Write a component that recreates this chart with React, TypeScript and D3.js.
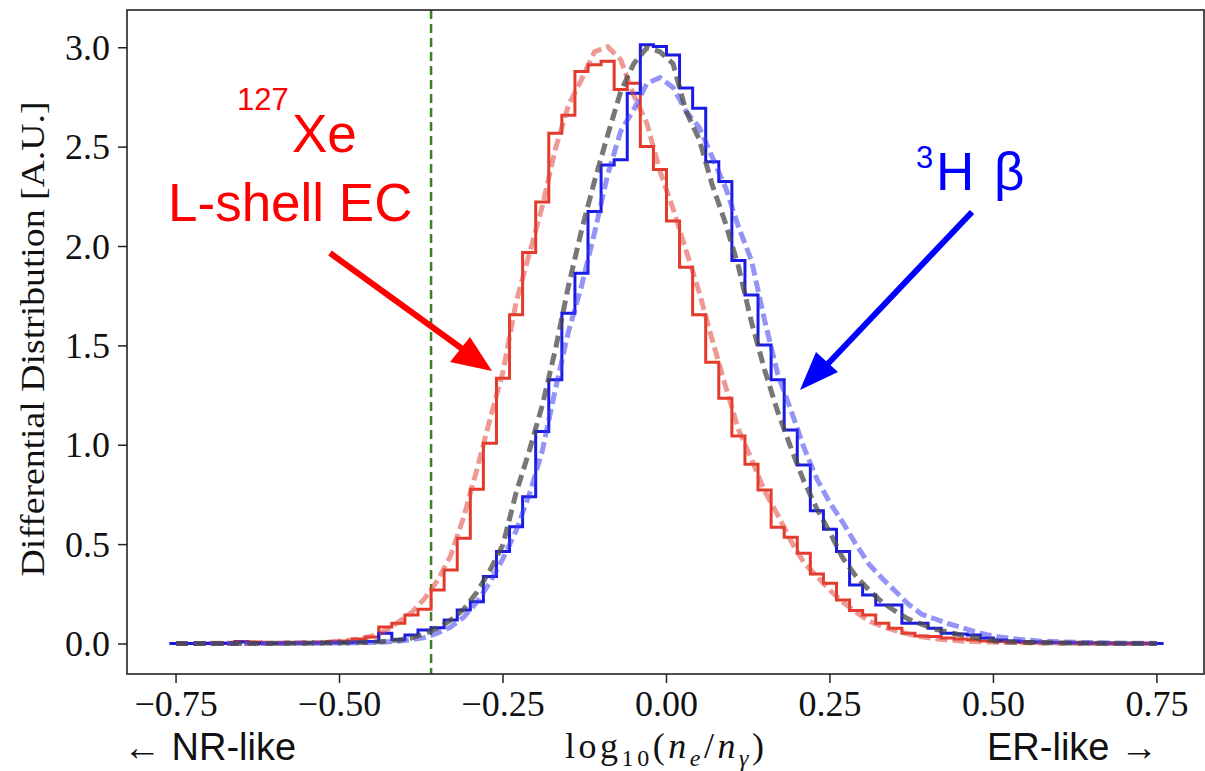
import React from "react";
import * as d3 from "d3";

// Histogram binning (bin edges every 0.02 starting at -0.76)
const BIN_START = -0.76;
const BIN_WIDTH = 0.02;

// Solid step histograms (bin centers -0.75 ... 0.75)
const XE127_HIST = [
  0.003, 0.003, 0.003, 0.004, 0.004, 0.012, 0.010, 0.004, 0.005, 0.005,
  0.006, 0.008, 0.012, 0.015, 0.025, 0.035, 0.085, 0.104, 0.146, 0.175,
  0.272, 0.372, 0.532, 0.778, 1.010, 1.337, 1.656, 1.970, 2.224, 2.570,
  2.660, 2.880, 2.915, 2.932, 2.790, 2.822, 2.503, 2.388,
  2.128, 1.896, 1.656, 1.418, 1.237, 1.047, 0.905, 0.775, 0.587, 0.537,
  0.456, 0.352, 0.305, 0.221, 0.168, 0.146, 0.104, 0.079, 0.054, 0.040,
  0.038, 0.030, 0.025, 0.020, 0.015, 0.012, 0.010, 0.008, 0.006, 0.006,
  0.005, 0.004, 0.004, 0.003, 0.003, 0.003, 0.002, 0.002,
];

const H3_HIST = [
  0.003, 0.003, 0.004, 0.003, 0.004, 0.010, 0.004, 0.004, 0.004, 0.005,
  0.005, 0.005, 0.006, 0.008, 0.010, 0.012, 0.054, 0.022, 0.045, 0.070,
  0.082, 0.121, 0.171, 0.213, 0.339, 0.465, 0.590, 0.741, 1.069, 1.329,
  1.664, 1.866, 2.176, 2.410, 2.436, 2.771, 3.015, 3.006,
  2.964, 2.797, 2.696, 2.427, 2.327, 1.929, 1.756, 1.505, 1.329, 1.077,
  0.901, 0.671, 0.577, 0.465, 0.297, 0.247, 0.196, 0.196, 0.104, 0.104,
  0.079, 0.054, 0.050, 0.045, 0.030, 0.020, 0.015, 0.012, 0.010, 0.008,
  0.007, 0.006, 0.005, 0.005, 0.004, 0.004, 0.003, 0.003,
];

// Dashed model curves, sampled at the same bin centers
const XE127_MODEL = [
  0.003, 0.003, 0.003, 0.004, 0.004, 0.005, 0.005, 0.005, 0.005, 0.006,
  0.007, 0.008, 0.012, 0.018, 0.025, 0.040, 0.066, 0.110, 0.158, 0.228,
  0.320, 0.445, 0.640, 0.876, 1.130, 1.370, 1.720, 1.960, 2.200, 2.490,
  2.710, 2.840, 2.980, 3.005, 2.940, 2.760, 2.620, 2.380,
  2.190, 1.980, 1.770, 1.530, 1.300, 1.080, 0.930, 0.770, 0.650, 0.520,
  0.410, 0.340, 0.270, 0.210, 0.160, 0.115, 0.088, 0.068, 0.050, 0.036,
  0.027, 0.020, 0.015, 0.012, 0.010, 0.008, 0.007, 0.006, 0.005, 0.005,
  0.004, 0.004, 0.003, 0.003, 0.003, 0.002, 0.002, 0.002,
];

const NEST_MODEL = [
  0.002, 0.002, 0.002, 0.003, 0.003, 0.003, 0.003, 0.003, 0.004, 0.004,
  0.004, 0.005, 0.005, 0.006, 0.008, 0.010, 0.014, 0.020, 0.030, 0.052,
  0.080, 0.120, 0.175, 0.260, 0.370, 0.500, 0.760, 0.970, 1.200, 1.480,
  1.800, 2.080, 2.330, 2.560, 2.780, 2.920, 3.000, 2.980,
  2.920, 2.680, 2.540, 2.310, 2.120, 1.900, 1.620, 1.380, 1.170, 0.990,
  0.820, 0.680, 0.560, 0.430, 0.340, 0.270, 0.210, 0.165, 0.125, 0.100,
  0.075, 0.060, 0.045, 0.034, 0.022, 0.012, 0.010, 0.008, 0.007, 0.006,
  0.005, 0.004, 0.004, 0.003, 0.003, 0.003, 0.002, 0.002,
];

const H3_MODEL = [
  0.002, 0.002, 0.002, 0.003, 0.003, 0.003, 0.003, 0.003, 0.003, 0.004,
  0.004, 0.004, 0.005, 0.005, 0.006, 0.007, 0.010, 0.014, 0.022, 0.032,
  0.055, 0.085, 0.135, 0.210, 0.310, 0.430, 0.570, 0.750, 0.970, 1.280,
  1.570, 1.800, 2.070, 2.360, 2.580, 2.690, 2.820, 2.850,
  2.800, 2.680, 2.600, 2.450, 2.300, 2.100, 1.930, 1.630, 1.360, 1.180,
  0.990, 0.830, 0.710, 0.610, 0.500, 0.400, 0.330, 0.265, 0.200, 0.150,
  0.127, 0.103, 0.085, 0.063, 0.047, 0.035, 0.027, 0.020, 0.015, 0.012,
  0.010, 0.008, 0.007, 0.006, 0.005, 0.004, 0.004, 0.003,
];

const X_TICKS = [-0.75, -0.5, -0.25, 0, 0.25, 0.5, 0.75];
const X_TICK_LABELS = ["\u22120.75", "\u22120.50", "\u22120.25", "0.00", "0.25", "0.50", "0.75"];
const Y_TICKS = [0, 0.5, 1, 1.5, 2, 2.5, 3];
const Y_TICK_LABELS = ["0.0", "0.5", "1.0", "1.5", "2.0", "2.5", "3.0"];
const CUT_VALUE = -0.36;

export default function App() {
  const W = 1205;
  const H = 771;
  const L = 127, R = 1204, T = 10, B = 674;
  const x = d3.scaleLinear().domain([-0.825, 0.822]).range([L, R]);
  const y = d3.scaleLinear().domain([-0.151, 3.19]).range([B, T]);

  const histPts = (vals: number[]): [number, number][] => {
    const pts: [number, number][] = vals.map((v, i) => [BIN_START + i * BIN_WIDTH, v]);
    pts.push([BIN_START + vals.length * BIN_WIDTH, vals[vals.length - 1]]);
    return pts;
  };
  const curvePts = (vals: number[]): [number, number][] =>
    vals.map((v, i) => [BIN_START + (i + 0.5) * BIN_WIDTH, v]);

  const step = d3
    .line<[number, number]>()
    .x((d) => x(d[0]))
    .y((d) => y(d[1]))
    .curve(d3.curveStepAfter);
  const smooth = d3
    .line<[number, number]>()
    .x((d) => x(d[0]))
    .y((d) => y(d[1]))
    .curve(d3.curveLinear);

  const serif = "'Liberation Serif', 'DejaVu Serif', serif";
  const sans = "'Liberation Sans', Arial, 'DejaVu Sans', sans-serif";

  return (
    <div style={{ position: "absolute", left: 0, top: 0, width: W, height: H, background: "#fff" }}>
      <svg width={W} height={H} viewBox={`0 0 ${W} ${H}`} style={{ display: "block" }}>
        <defs>
          <clipPath id="plotClip">
            <rect x={L} y={T} width={R - L} height={B - T} />
          </clipPath>
        </defs>
        <rect x={0} y={0} width={W} height={H} fill="#fff" />

        <g clipPath="url(#plotClip)">
          {/* cut line */}
          <line
            x1={x(CUT_VALUE)}
            x2={x(CUT_VALUE)}
            y1={T}
            y2={B}
            stroke="#3f7f26"
            strokeWidth={2.5}
            strokeDasharray="9 5"
          />
          {/* step histograms */}
          <path d={step(histPts(XE127_HIST)) || ""} fill="none" stroke="#e33a2c" strokeWidth={3} />
          <path d={step(histPts(H3_HIST)) || ""} fill="none" stroke="#1a1ae6" strokeWidth={3} />
          {/* dashed model curves */}
          <path
            d={smooth(curvePts(XE127_MODEL)) || ""}
            fill="none"
            stroke="#e0453c"
            strokeOpacity={0.55}
            strokeWidth={5}
            strokeDasharray="12 5"
          />
          <path
            d={smooth(curvePts(H3_MODEL)) || ""}
            fill="none"
            stroke="#3c3cf0"
            strokeOpacity={0.55}
            strokeWidth={5}
            strokeDasharray="12 5"
          />
          <path
            d={smooth(curvePts(NEST_MODEL)) || ""}
            fill="none"
            stroke="#4a4a4a"
            strokeOpacity={0.75}
            strokeWidth={5}
            strokeDasharray="12 6"
          />
        </g>

        {/* frame */}
        <rect x={L} y={T} width={R - L} height={B - T} fill="none" stroke="#222" strokeWidth={1.6} />

        {/* x ticks */}
        {X_TICKS.map((t, i) => (
          <g key={"xt" + i}>
            <line x1={x(t)} x2={x(t)} y1={B} y2={B + 9} stroke="#222" strokeWidth={1.5} />
            <text
              x={x(t)}
              y={716}
              textAnchor="middle"
              fontFamily={serif}
              fontSize={36}
              fill="#111"
            >
              {X_TICK_LABELS[i]}
            </text>
          </g>
        ))}
        {/* y ticks */}
        {Y_TICKS.map((t, i) => (
          <g key={"yt" + i}>
            <line x1={L - 9} x2={L} y1={y(t)} y2={y(t)} stroke="#222" strokeWidth={1.5} />
            <text
              x={110}
              y={y(t) + 12}
              textAnchor="end"
              fontFamily={serif}
              fontSize={36}
              fill="#111"
            >
              {Y_TICK_LABELS[i]}
            </text>
          </g>
        ))}

        {/* y label */}
        <text
          transform="translate(44,339) rotate(-90)"
          textAnchor="middle"
          fontFamily={serif}
          fontSize={33}
          fill="#111"
          textLength={475}
          lengthAdjust="spacingAndGlyphs"
        >
          Differential Distribution [A.U.]
        </text>

        {/* x label */}
        <text x={565} y={758} fontFamily={serif} fontSize={36} fill="#111" textLength={199} lengthAdjust="spacing">
          log
          <tspan fontSize={24} dy={8}>10</tspan>
          <tspan dy={-8}>(</tspan>
          <tspan fontStyle="italic">n</tspan>
          <tspan fontStyle="italic" fontSize={24} dy={8}>e</tspan>
          <tspan dy={-8}>/</tspan>
          <tspan fontStyle="italic">n</tspan>
          <tspan fontStyle="italic" fontSize={24} dy={8}>γ</tspan>
          <tspan dy={-8}>)</tspan>
        </text>

        {/* bottom side labels */}
        <text x={123} y={760} fontFamily={sans} fontSize={38} fill="#111">
          ← NR-like
        </text>
        <text x={987} y={760} fontFamily={sans} fontSize={38} fill="#111">
          ER-like →
        </text>

        {/* 127Xe annotation */}
        <text x={237} y={110} fontFamily={sans} fontSize={31} fill="#ff0000">
          127
        </text>
        <text x={292} y={152} fontFamily={sans} fontSize={53} fill="#ff0000">
          Xe
        </text>
        <text x={168} y={221} fontFamily={sans} fontSize={53} fill="#ff0000">
          L-shell EC
        </text>
        <line x1={330} y1={253} x2={468} y2={353} stroke="#ff0000" strokeWidth={6} />
        <polygon points="492,371 450,362 470,337" fill="#ff0000" />

        {/* 3H beta annotation */}
        <text x={916} y={168} fontFamily={sans} fontSize={31} fill="#0000ff">
          3
        </text>
        <text x={936} y={190} fontFamily={sans} fontSize={53} fill="#0000ff">
          H
        </text>
        <text x={994} y={190} fontFamily={sans} fontSize={53} fill="#0000ff">
          β
        </text>
        <line x1={972} y1={212} x2={822} y2={370} stroke="#0000ff" strokeWidth={6} />
        <polygon points="800,390 816,352 838,372" fill="#0000ff" />
      </svg>
    </div>
  );
}
